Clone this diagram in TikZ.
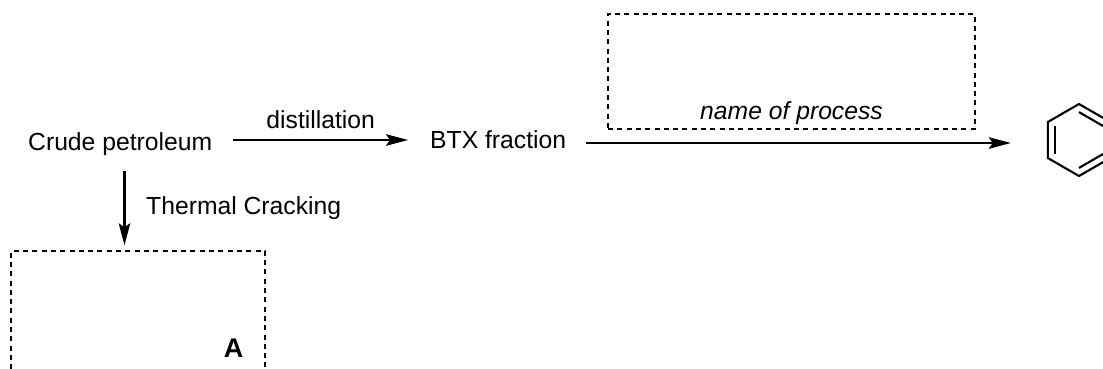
\documentclass[tikz,border=0pt]{standalone}
\usepackage{fontspec}
\setmainfont{Liberation Sans}
\usetikzlibrary{arrows.meta}
\begin{document}
\begin{tikzpicture}[x=1pt,y=-1pt,
  lbl/.style={inner sep=0pt,anchor=base west,font=\fontsize{24.7}{30}\selectfont},
  arr/.style={line width=2.1pt,-{Stealth[length=22pt,width=11.5pt,inset=4pt]}},
  dbox/.style={draw,line width=1.4pt,dash pattern=on 5pt off 4.3pt,inner sep=0pt},
  bond/.style={line width=2.1pt,line join=miter}]
\useasboundingbox (0,0) rectangle (1103,368);
\node[lbl] (crude) at (28,150) {Crude petroleum};
\node[lbl] (btx) at (430,148) {BTX fraction};
\node[dbox,minimum width=367pt,minimum height=115pt] (boxP) at (791.5,71.5) {};
\node[lbl,anchor=base,font=\fontsize{24.7}{30}\selectfont\itshape] (proc) at (791.5,119) {name of process};
\node[dbox,minimum width=254pt,minimum height=160pt] (boxA) at (138,331) {};
\node[lbl,anchor=base east,font=\fontsize{27}{32}\selectfont\bfseries] (A) at (243.5,357.5) {A};
\node[circle,inner sep=0pt,minimum size=72pt] (benz) at (1079,140) {};
% distillation arrow
\coordinate (d1) at ([shift={(21pt,10pt)}]crude.base east);
\coordinate (d2) at ([xshift=-22pt]btx.base west);
\draw[arr] (d1) -- (d1 -| d2) node[midway,lbl,anchor=base,yshift=12pt] (dist) {distillation};
% process arrow
\coordinate (p1) at ([shift={(20pt,5pt)}]btx.base east);
\coordinate (p2) at ([xshift=-32pt]benz.west);
\draw[arr] (p1) -- (p1 -| p2);
% thermal cracking arrow
\coordinate (t1) at ([shift={(4.3pt,-16pt)}]crude.south);
\coordinate (t2) at ([yshift=5pt]boxA.north);
\draw[arr] (t1) -- (t1 |- t2) node[midway,lbl,anchor=base west,xshift=20.7pt,yshift=-6.5pt] (therm) {Thermal Cracking};
% benzene
\draw[bond] ([shift={(90:36pt)}]benz.center) -- ([shift={(30:36pt)}]benz.center) -- ([shift={(-30:36pt)}]benz.center) -- ([shift={(-90:36pt)}]benz.center) -- ([shift={(-150:36pt)}]benz.center) -- ([shift={(150:36pt)}]benz.center) -- cycle;
\draw[bond] ([shift={(150:27.9pt)}]benz.center) -- ([shift={(210:27.9pt)}]benz.center);
\draw[bond] ([shift={(90:27.9pt)}]benz.center) -- ([shift={(30:27.9pt)}]benz.center);
\draw[bond] ([shift={(-30:27.9pt)}]benz.center) -- ([shift={(-90:27.9pt)}]benz.center);
\end{tikzpicture}
\end{document}
